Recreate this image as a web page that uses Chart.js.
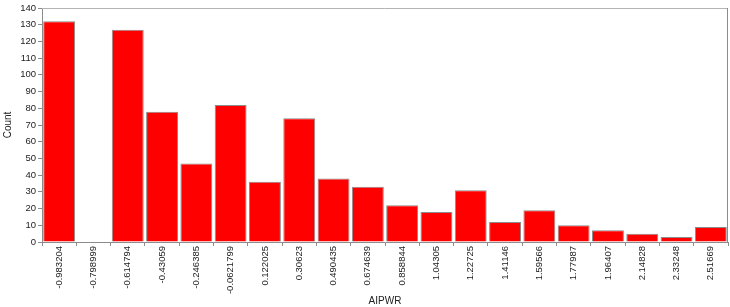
<!DOCTYPE html>
<html>
<head>
<meta charset="utf-8">
<script src="https://cdn.jsdelivr.net/npm/chart.js@4"></script>
<style>
  html, body { margin: 0; padding: 0; background: #fff; }
  #wrap { width: 730px; height: 307px; }
</style>
</head>
<body>
<div id="wrap"><canvas id="histChart"></canvas></div>
<script>
// bin labels (lower edge of each AIPWR bin)
var binLabels = ["-0.983204", "-0.798999", "-0.614794", "-0.43059", "-0.246385", "-0.0621799",
  "0.122025", "0.30623", "0.490435", "0.674639", "0.858844", "1.04305", "1.22725",
  "1.41146", "1.59566", "1.77987", "1.96407", "2.14828", "2.33248", "2.51669"];
// counts per bin
var counts = [132, 0, 127, 78, 47, 82, 36, 74, 38, 33, 22, 18, 31, 12, 19, 10, 7, 5, 3, 9];

var txt = '#222';
var axisGray = '#8c8c8c';
var fnt = { family: 'Liberation Sans', size: 9.5 };

// gray frame on top and right of the plot
var frame = {
  id: 'frame',
  afterDraw: function(chart) {
    var a = chart.chartArea, c = chart.ctx;
    c.save();
    c.strokeStyle = '#b4b4b4';
    c.lineWidth = 1;
    c.beginPath();
    c.moveTo(a.left, a.top + 0.5);
    c.lineTo(a.right - 0.5, a.top + 0.5);
    c.stroke();
    c.strokeStyle = '#8c8c8c';
    c.beginPath();
    c.moveTo(a.right - 0.5, a.top);
    c.lineTo(a.right - 0.5, a.bottom);
    c.stroke();
    c.restore();
  }
};

var ctx = document.getElementById('histChart').getContext('2d');
var histChart = new Chart(ctx, {
  type: 'bar',
  data: {
    labels: binLabels,
    datasets: [{
      data: counts,
      backgroundColor: '#ff0000',
      borderColor: '#8c8c8c',
      borderWidth: 1,
      barPercentage: 0.93,
      categoryPercentage: 1.0
    }]
  },
  options: {
    responsive: true,
    maintainAspectRatio: false,
    animation: false,
    layout: { padding: { top: 8, right: 2, left: 0, bottom: 0 } },
    plugins: {
      legend: { display: false },
      tooltip: { enabled: false }
    },
    scales: {
      x: {
        grid: { display: true, drawOnChartArea: false, tickLength: 4, color: axisGray },
        border: { color: axisGray },
        ticks: {
          color: txt,
          font: fnt,
          minRotation: 90,
          maxRotation: 90,
          autoSkip: false,
          padding: 0
        },
        title: {
          display: true,
          text: 'AIPWR',
          color: txt,
          font: { family: 'Liberation Sans', size: 10 },
          padding: { top: 0, bottom: 0 }
        },
        afterFit: function(scale) { scale.height = 65; }
      },
      y: {
        min: 0,
        max: 140,
        grid: { display: true, drawOnChartArea: false, tickLength: 4, color: axisGray },
        border: { color: axisGray },
        ticks: {
          stepSize: 10,
          color: txt,
          font: fnt,
          padding: 2
        },
        title: {
          display: true,
          text: 'Count',
          color: txt,
          font: { family: 'Liberation Sans', size: 10 },
          padding: { top: 2, bottom: 0 }
        },
        afterFit: function(scale) { scale.width = 42; }
      }
    }
  },
  plugins: [frame]
});
</script>
</body>
</html>
